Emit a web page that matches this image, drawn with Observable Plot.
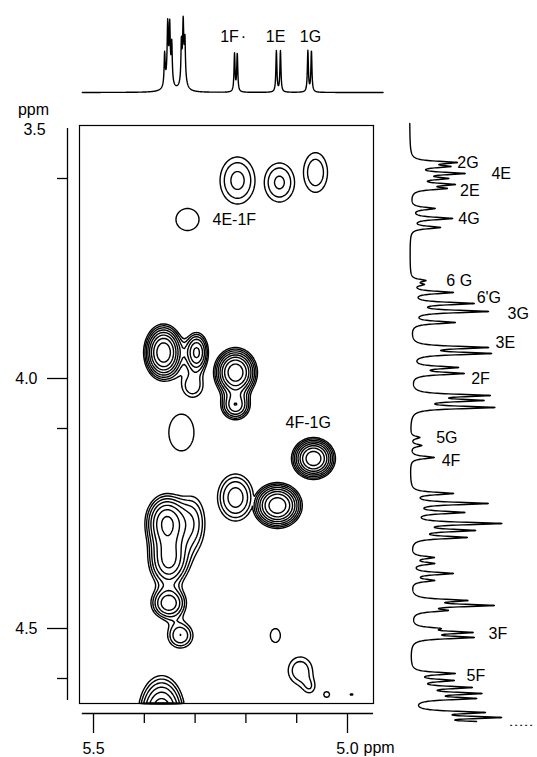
<!DOCTYPE html>
<html><head><meta charset="utf-8">
<script src="https://cdn.jsdelivr.net/npm/d3@7"></script>
<script src="https://cdn.jsdelivr.net/npm/@observablehq/plot@0.6"></script>
<style>
html,body{margin:0;padding:0;background:#fff;}
#wrap{position:relative;width:537px;height:757px;overflow:hidden;font-family:"Liberation Sans",Arial,sans-serif;}
#wrap svg{position:absolute;top:0;}
</style></head><body><div id="wrap"></div>
<script>
// ---------- DATA ----------
// 2D cross peaks: F2 shift, F1 shift (ppm), relative intensity, linewidths (ppm), overlap group
const crossF2  = [5.2165,5.134,5.063,5.315, 5.362,5.305,5.297, 5.2205,5.2205, 5.327, 5.067, 5.2205, 5.138, 5.356,5.352,5.352,5.329,5.303, 5.142, 5.093,5.073, 5.041, 4.992, 5.366];
const crossF1  = [3.604,3.608,3.588,3.682, 3.948,4.016,3.948, 3.988,4.054, 4.108, 4.16, 4.238, 4.254, 4.288,4.364,4.45,4.514,4.29, 4.514, 4.584,4.62, 4.632, 4.632, 4.675];
const crossAmp = [1.85,1.8,1.6,1.25, 8,1.6,4, 8,3.5, 1.25, 8, 2.6, 8, 5,4,3.5,2.2,1.8, 1.25, 1.6,0.8, 1.15, 1.12, 5];
const crossW2  = [0.031,0.0275,0.0244,0.034, 0.0193,0.02,0.014, 0.0212,0.0177, 0.037, 0.0212, 0.0256, 0.024, 0.0236,0.0236,0.0217,0.0197,0.02, 0.0148, 0.0244,0.012, 0.0112, 0.006, 0.026];
const crossW1  = [0.0424,0.036,0.041,0.033, 0.028,0.022,0.024, 0.0245,0.018, 0.055, 0.0206, 0.034, 0.0225, 0.032,0.032,0.02,0.02,0.045, 0.021, 0.028,0.014, 0.011, 0.006, 0.045];
const crossGroup = [0,1,2,3, 4,4,4, 5,5, 6, 7, 8, 9, 10,10,10,10,10, 11, 12,12, 13, 14, 15];
const contourLevels = [1,1.3,1.69,2.2,2.86,3.7,4.8,6.3,8.2,10.6];

// top 1D spectrum (F2): shift ppm, height, half-width ppm
const topShift  = [5.352,5.360,5.354,5.350,5.346,5.323,5.327,5.3235,5.320,5.2224,5.217,5.140,5.132,5.078,5.071];
const topHeight = [0.22,0.40,0.65,0.62,0.48,0.40,0.45,0.50,0.42,0.48,0.48,0.52,0.52,0.52,0.52];
const topWidth  = [0.006,0.0012,0.0012,0.0012,0.0012,0.004,0.001,0.001,0.001,0.0012,0.0012,0.0012,0.0012,0.0012,0.0012];
const topLabels = ["1F","·","1E","1G"];
const topLabelX = [5.2323,5.2047,5.1417,5.0728];
const topLabelV = [0.71,0.70,0.71,0.71];

// side 1D spectrum (F1): shift ppm, height
const sideShift  = [3.568,3.576,3.590,3.600,3.612,3.620,3.660,3.680,3.698,3.804,3.812,3.828,3.850,3.866,3.888,3.938,3.950,3.978,3.990,4.034,4.044,4.058,4.118,4.134,4.158,4.230,4.250,4.268,4.290,4.304,4.318,4.358,4.370,4.390,4.404,4.444,4.454,4.464,4.500,4.508,4.518,4.590,4.604,4.618,4.630,4.640,4.668,4.678,4.688];
const sideHeight = [0.46,0.36,0.54,0.34,0.42,0.34,0.26,0.45,0.32,0.15,0.12,0.45,0.66,0.82,0.47,0.80,0.83,0.48,0.55,0.80,0.70,0.88,0.10,0.12,0.26,0.45,0.82,0.55,0.95,0.64,0.58,0.24,0.24,0.45,0.24,0.55,0.84,0.33,0.24,0.60,0.64,0.46,0.42,0.60,0.68,0.64,0.72,0.86,0.86];
const sideWidth = 0.003;
const sideLabels = ["2G","4E","2E","4G","6 G","6'G","3G","3E","2F","5G","4F","3F","5F"];
const sideLabelV = [0.52,0.89,0.55,0.53,0.40,0.73,1.065,0.935,0.67,0.29,0.35,0.86,0.62];
const sideLabelY = [3.568,3.59,3.624,3.68,3.804,3.838,3.87,3.928,4.00,4.118,4.164,4.51,4.594];

// cross-peak annotations
const crossLabels = ["4E-1F","4F-1G"];
const crossLabelX = [5.2657,5.122];
const crossLabelY = [3.682,4.088];

// axes
const yMajor = [4.0,4.5];
const yMinor = [3.6,4.1,4.6];
const xMajor = [5.5,5.0];
const xMinor = [5.4,5.3,5.2,5.1];

// ---------- SCALES ----------
const xDom = [5.5276, 4.9488];
const yDom = [3.494, 4.65];
const font = '"Liberation Sans", Arial, sans-serif';
const nGroups = d3.max(crossGroup) + 1;

function crossValue(x, y) {
  const g = new Float64Array(nGroups);
  for (let i = 0; i < crossF2.length; i++) {
    const a = (x - crossF2[i]) / crossW2[i], b = (y - crossF1[i]) / crossW1[i];
    g[crossGroup[i]] += crossAmp[i] * Math.exp(-0.5 * (a * a + b * b));
  }
  return d3.max(g);
}
function lorentz(shifts, heights, widths, p) {
  let s = 0;
  for (let i = 0; i < shifts.length; i++) {
    const w = Array.isArray(widths) ? widths[i] : widths;
    const d = p - shifts[i];
    s += heights[i] * w * w / (d * d + w * w);
  }
  return s;
}
const topTrace = d3.range(0, 1481).map(i => { const p = 5.522 - i * 0.0004; return {p, v: lorentz(topShift, topHeight, topWidth, p)}; });
const sideTrace = d3.range(0, 2991).map(i => { const p = 3.49 + i * 0.0004; return {p, v: lorentz(sideShift, sideHeight, sideWidth, p)}; });

const wrap = document.getElementById("wrap");
const baseStyle = {fontFamily: font, fontSize: "16px", color: "black", background: "transparent", overflow: "visible"};

const mainPlot = Plot.plot({
  width: 400, height: 757,
  marginLeft: 79, marginRight: 27, marginTop: 125, marginBottom: 54,
  x: {domain: xDom},
  y: {domain: yDom, reverse: true},
  style: baseStyle,
  marks: [
    Plot.contour({value: crossValue, x1: xDom[0], x2: xDom[1], y1: yDom[0], y2: yDom[1], thresholds: contourLevels, stroke: "black", fill: "none", strokeWidth: 1.4}),
    Plot.frame({stroke: "black", strokeWidth: 1.2}),
    Plot.ruleX([xDom[0]], {y1: 3.5, y2: 4.644, dx: -12, strokeWidth: 1.3}),
    Plot.axisY({ticks: yMajor, tickSize: 20, tickPadding: 10, dx: -12, label: null, tickFormat: d3.format(".1f"), strokeWidth: 1.3}),
    Plot.axisY({ticks: yMinor, tickSize: 10, dx: -12, label: null, tickFormat: () => "", strokeWidth: 1.3}),
    Plot.text(["3.5"], {x: xDom[0], y: 3.5, dx: -45, dy: 1}),
    Plot.text(["ppm"], {x: xDom[0], y: 3.5, dx: -46, dy: -19}),
    Plot.ruleY([yDom[1]], {x1: 5.522, x2: xDom[1], dy: 10, strokeWidth: 1.3}),
    Plot.axisX({ticks: xMajor, anchor: "bottom", tickSize: 20, tickPadding: 9, dy: 10, label: null, tickFormat: d3.format(".1f"), strokeWidth: 1.3}),
    Plot.axisX({ticks: xMinor, anchor: "bottom", tickSize: 10, dy: 10, label: null, tickFormat: () => "", strokeWidth: 1.3}),
    Plot.text(["ppm"], {x: 5.0, y: yDom[1], dx: 16, dy: 44, textAnchor: "start"}),
    Plot.text(crossLabels, {x: crossLabelX, y: crossLabelY, textAnchor: "start", text: d => d})
  ]
});
mainPlot.style.left = "0px";
wrap.appendChild(mainPlot);

const topPlot = Plot.plot({
  width: 400, height: 100,
  marginLeft: 79, marginRight: 27, marginTop: 13, marginBottom: 8,
  x: {domain: xDom, axis: null},
  y: {domain: [0, 1], axis: null},
  style: baseStyle,
  marks: [
    Plot.line(topTrace, {x: "p", y: "v", stroke: "black", strokeWidth: 1.4}),
    Plot.text(topLabels, {x: topLabelX, y: topLabelV, text: d => d})
  ]
});
topPlot.style.left = "0px";
wrap.appendChild(topPlot);

const sidePlot = Plot.plot({
  width: 137, height: 757,
  marginLeft: 9, marginRight: 36, marginTop: 125, marginBottom: 54,
  x: {domain: [0, 1], axis: null},
  y: {domain: yDom, reverse: true, axis: null},
  style: baseStyle,
  marks: [
    Plot.line(sideTrace, {x: "v", y: "p", stroke: "black", strokeWidth: 1.4}),
    Plot.ruleY([4.6936], {x1: 1.1, x2: 1.37, stroke: "black", strokeDasharray: "2,3"}),
    Plot.text(sideLabels, {x: sideLabelV, y: sideLabelY, textAnchor: "start", text: d => d})
  ]
});
sidePlot.style.left = "400px";
wrap.appendChild(sidePlot);
</script></body></html>
